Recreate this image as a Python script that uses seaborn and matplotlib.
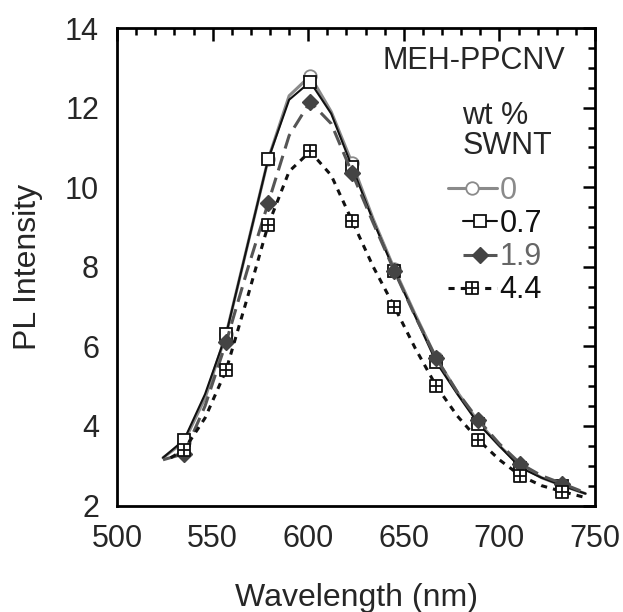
import numpy as np
import pandas as pd
import matplotlib
matplotlib.use("Agg")
import matplotlib.pyplot as plt
from matplotlib.path import Path
from matplotlib.ticker import MultipleLocator
from matplotlib.legend_handler import HandlerLine2D
import seaborn as sns

sns.set_style("white")
plt.rcParams['font.family'] = ['Liberation Sans', 'DejaVu Sans']

# wavelength grid (nm) and PL intensity for each SWNT loading
wl_0 = [524, 535, 546, 557, 568, 579, 590, 601, 612, 623, 634, 645, 656, 667, 678, 689, 700, 711, 722, 733, 745]
pl_0 = [3.2, 3.6, 4.7, 6.3, 8.5, 10.7, 12.3, 12.8, 11.9, 10.6, 9.2, 7.95, 6.8, 5.7, 4.85, 4.1, 3.5, 3.0, 2.7, 2.5, 2.3]

wl_07 = [524, 535, 546, 557, 568, 579, 590, 601, 612, 623, 634, 645, 656, 667, 678, 689, 700, 711, 722, 733, 745]
pl_07 = [3.2, 3.65, 4.8, 6.3, 8.5, 10.7, 12.2, 12.65, 11.85, 10.5, 9.15, 7.9, 6.75, 5.6, 4.8, 4.05, 3.5, 2.95, 2.7, 2.5, 2.3]

wl_19 = [524, 535, 546, 557, 568, 579, 590, 601, 612, 623, 634, 645, 656, 667, 678, 689, 700, 711, 722, 733, 746]
pl_19 = [3.15, 3.3, 4.5, 6.1, 7.9, 9.6, 11.3, 12.15, 11.6, 10.35, 9.1, 7.9, 6.75, 5.7, 4.85, 4.15, 3.55, 3.05, 2.75, 2.55, 2.3]

wl_44 = [528, 535, 546, 557, 568, 579, 590, 601, 612, 623, 634, 645, 656, 667, 678, 689, 700, 711, 722, 733, 745]
pl_44 = [3.2, 3.4, 4.2, 5.4, 7.2, 9.05, 10.4, 10.9, 10.3, 9.15, 8.0, 7.0, 5.95, 5.0, 4.25, 3.65, 3.15, 2.75, 2.5, 2.35, 2.2]

labels = ["0", "0.7", "1.9", "4.4"]
x_ticks = [500, 550, 600, 650, 700, 750]
y_ticks = [2, 4, 6, 8, 10, 12, 14]

# square-with-cross marker
sq_cross = Path(
    [(-1, -1), (1, -1), (1, 1), (-1, 1), (-1, -1), (0, -1), (0, 1), (-1, 0), (1, 0)],
    [Path.MOVETO, Path.LINETO, Path.LINETO, Path.LINETO, Path.CLOSEPOLY,
     Path.MOVETO, Path.LINETO, Path.MOVETO, Path.LINETO])


class ShortHandler(HandlerLine2D):
    """Legend line handler drawing a right-aligned, shortened line."""
    def __init__(self, frac=1.0, **kw):
        super().__init__(**kw)
        self.frac = frac

    def create_artists(self, legend, orig_handle, xdescent, ydescent, width, height, fontsize, trans):
        new_w = width * self.frac
        xdescent = xdescent - (width - new_w)
        return super().create_artists(legend, orig_handle, xdescent, ydescent, new_w, height, fontsize, trans)


fig = plt.figure(figsize=(6.23, 6.12), dpi=100)
ax = fig.add_axes([0.188, 0.174, 0.767, 0.780])

series = [
    (wl_0, pl_0, dict(color="#8a8a8a", lw=2.2, ls="-", marker="o", ms=9, mfc="white", mec="#8a8a8a", mew=1.3)),
    (wl_07, pl_07, dict(color="#111111", lw=1.5, ls="-", marker="s", ms=8, mfc="white", mec="#111111", mew=1.3)),
    (wl_19, pl_19, dict(color="#555555", lw=2.2, ls=(0, (5, 2.5)), marker="D", ms=8, mfc="#444444", mec="#444444", mew=1)),
    (wl_44, pl_44, dict(color="#111111", lw=2.2, ls=(0, (2, 2)), marker=sq_cross, ms=9, mfc="white", mec="#111111", mew=1.3)),
]

for (wl, pl, st), lab in zip(series, labels):
    df = pd.DataFrame({"wl": wl, "pl": pl})
    sns.lineplot(data=df, x="wl", y="pl", ax=ax, label=lab, markevery=(1, 2),
                 sort=False, **st)

ax.set_xlim(500, 750)
ax.set_ylim(2, 14)
ax.set_xticks(x_ticks)
ax.set_yticks(y_ticks)
ax.xaxis.set_minor_locator(MultipleLocator(10))
ax.yaxis.set_minor_locator(MultipleLocator(0.5))
ax.tick_params(which="both", direction="in", top=True, right=True, width=1.8, color="black")
ax.tick_params(which="major", length=9, labelsize=22, pad=13)
ax.tick_params(which="minor", length=5)
for s in ax.spines.values():
    s.set_linewidth(2)
    s.set_color("black")

ax.set_xlabel("Wavelength (nm)", fontsize=23, labelpad=21)
ax.set_ylabel("PL Intensity", fontsize=23, labelpad=16)

ax.text(0.937, 0.931, "MEH-PPCNV", transform=ax.transAxes, ha="right", va="center", fontsize=22)
ax.text(0.722, 0.816, "wt %", transform=ax.transAxes, ha="left", va="center", fontsize=22)
ax.text(0.722, 0.753, "SWNT", transform=ax.transAxes, ha="left", va="center", fontsize=22)

handles, labs = ax.get_legend_handles_labels()
fracs = [1.0, 0.68, 0.68, 1.0]
leg = ax.legend(handles, labs, loc="upper left", bbox_to_anchor=(0.692, 0.690), frameon=False,
                fontsize=22, handlelength=1.6, handletextpad=0.1, labelspacing=0.1, borderpad=0,
                borderaxespad=0,
                handler_map={h: ShortHandler(frac=f, numpoints=1) for h, f in zip(handles, fracs)})
colors = ["#8a8a8a", "#111111", "#666666", "#111111"]
for t, c in zip(leg.get_texts(), colors):
    t.set_color(c)

fig.savefig("out.png", dpi=100)
